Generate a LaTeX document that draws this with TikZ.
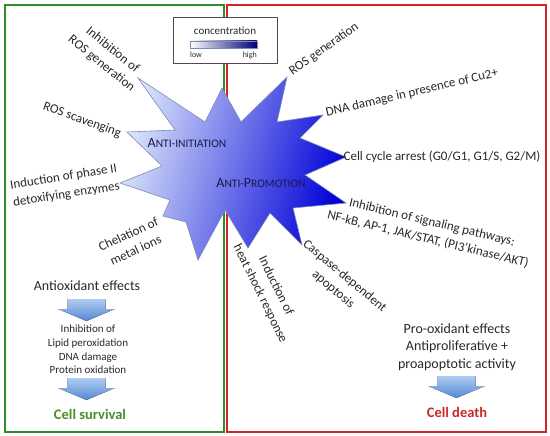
\documentclass[tikz,border=0pt]{standalone}
\usepackage{fontspec}
\setmainfont{Carlito}
\usetikzlibrary{shapes,arrows}
\definecolor{boxgreen}{RGB}{45,140,45}
\definecolor{boxred}{RGB}{215,35,35}
\definecolor{survgreen}{RGB}{75,140,45}
\definecolor{deathred}{RGB}{205,40,40}
\definecolor{starlight}{RGB}{218,229,250}
\definecolor{starmid}{RGB}{85,120,235}
\definecolor{stardark}{RGB}{0,0,215}
\definecolor{starline}{RGB}{120,140,185}
\definecolor{legdark}{RGB}{0,0,115}
\definecolor{txtgray}{RGB}{40,40,40}
\definecolor{navytxt}{RGB}{25,25,75}
\definecolor{arrowtop}{RGB}{175,205,242}
\definecolor{arrowbot}{RGB}{85,135,210}
\tikzstyle{panel}=[
	line width=1.6pt
]
\tikzstyle{lbl}=[
	inner sep=0pt,
	text=txtgray,
	align=center,
	font=\fontsize{13}{17.5}\selectfont
]
\tikzstyle{effect}=[
	lbl,
	font=\fontsize{14}{17.5}\selectfont
]
\tikzstyle{target}=[
	lbl,
	font=\fontsize{11}{13.7}\selectfont
]
\tikzstyle{fate}=[
	inner sep=0pt,
	font=\fontsize{14.5}{17}\selectfont\bfseries
]
\tikzstyle{phase}=[
	inner sep=0pt,
	text=navytxt
]
\tikzstyle{bigarrow}=[
	top color=arrowtop,
	bottom color=arrowbot,
	draw=none
]
\newcommand{\fakesc}[2]{{\fontsize{14}{16}\selectfont #1}{\fontsize{11.5}{14}\selectfont #2}}

\begin{document}
\begin{tikzpicture}[x=1pt, y=-1pt]
\useasboundingbox (0,0) rectangle (550,436);

\draw[panel, draw=boxgreen] (5,5) rectangle (224,432);
\draw[panel, draw=boxred] (227,5) rectangle (546,432);

\draw[draw=starline, line width=0.6pt, left color=starlight, middle color=starmid, right color=stardark, shading angle=75]
    (138,78) -- (205,122) -- (222,88) -- (241,122) -- (287,77) -- (277,122)
    -- (323,115) -- (300,138) -- (346,157) -- (305,175) -- (346,203) -- (293,208)
    -- (302,245) -- (270,213) -- (248,248) -- (225,210) -- (198,260) -- (186,222)
    -- (163,216) -- (170,200) -- (120,183) -- (162,166) -- (127,132) -- (175,130)
    -- cycle;

\node[phase] (init) at (187,143) {\fakesc{A}{NTI-INITIATION}};
\node[phase] (promo) at (261,183) {\fakesc{A}{NTI-}\fakesc{P}{ROMOTION}};

\draw[draw=black!70, fill=white, line width=0.6pt] (173,17) rectangle (277,63);
\node[inner sep=0pt, text=txtgray, font=\fontsize{11}{13}\selectfont] (conc) at (225,31) {concentration};
\draw[draw=starline, line width=0.5pt, left color=white, middle color=blue!75!white, right color=legdark] (190,41) rectangle (257,48);
\node[inner sep=0pt, anchor=west, text=txtgray, font=\fontsize{8}{9}\selectfont] (low) at (190,55) {low};
\node[inner sep=0pt, anchor=east, text=txtgray, font=\fontsize{8}{9}\selectfont] (high) at (257,55) {high};

\node[lbl, rotate=-39] (rosinh) at (107,57) {Inhibition of\\ROS generation};
\node[lbl, rotate=-20] (rosscav) at (82,120) {ROS scavenging};
\node[lbl, rotate=9] (phasetwo) at (65,186) {Induction of phase II\\detoxifying enzymes};
\node[lbl, rotate=25] (chel) at (132,242) {Chelation of\\metal ions};
\node[lbl, rotate=-64] (heat) at (268,290) {Induction of\\heat shock response};
\node[lbl, rotate=35] (rosgen) at (324,49) {ROS generation};
\node[lbl, rotate=13] (dna) at (412,93) {DNA damage in presence of Cu2+};
\node[lbl] (cycle) at (442,157) {Cell cycle arrest (G0/G1, G1/S, G2/M)};
\node[lbl, rotate=-13.5] (signal) at (430,231) {Inhibition of signaling pathways:\\NF-kB, AP-1, JAK/STAT, (PI3'kinase/AKT)};
\node[lbl, rotate=-40] (casp) at (339,283) {Caspase-dependent\\apoptosis};

\foreach \ax/\ay in {86.5/299, 86.5/378, 456.5/376}{
    \fill[bigarrow] (\ax-19,\ay) -- (\ax+19,\ay) -- (\ax+19,\ay+10) -- (\ax+28.5,\ay+10)
        -- (\ax,\ay+22) -- (\ax-28.5,\ay+10) -- (\ax-19,\ay+10) -- cycle;
}

\node[effect] (antiox) at (87,286) {Antioxidant effects};
\node[target] (inhib) at (88,349.5) {Inhibition of\\Lipid peroxidation\\DNA damage\\Protein oxidation};
\node[fate, text=survgreen] (survival) at (90,414) {Cell survival};

\node[effect] (proox) at (457,347) {Pro-oxidant effects\\Antiproliferative +\\proapoptotic activity};
\node[fate, text=deathred] (death) at (457,412) {Cell death};

\end{tikzpicture}
\end{document}
